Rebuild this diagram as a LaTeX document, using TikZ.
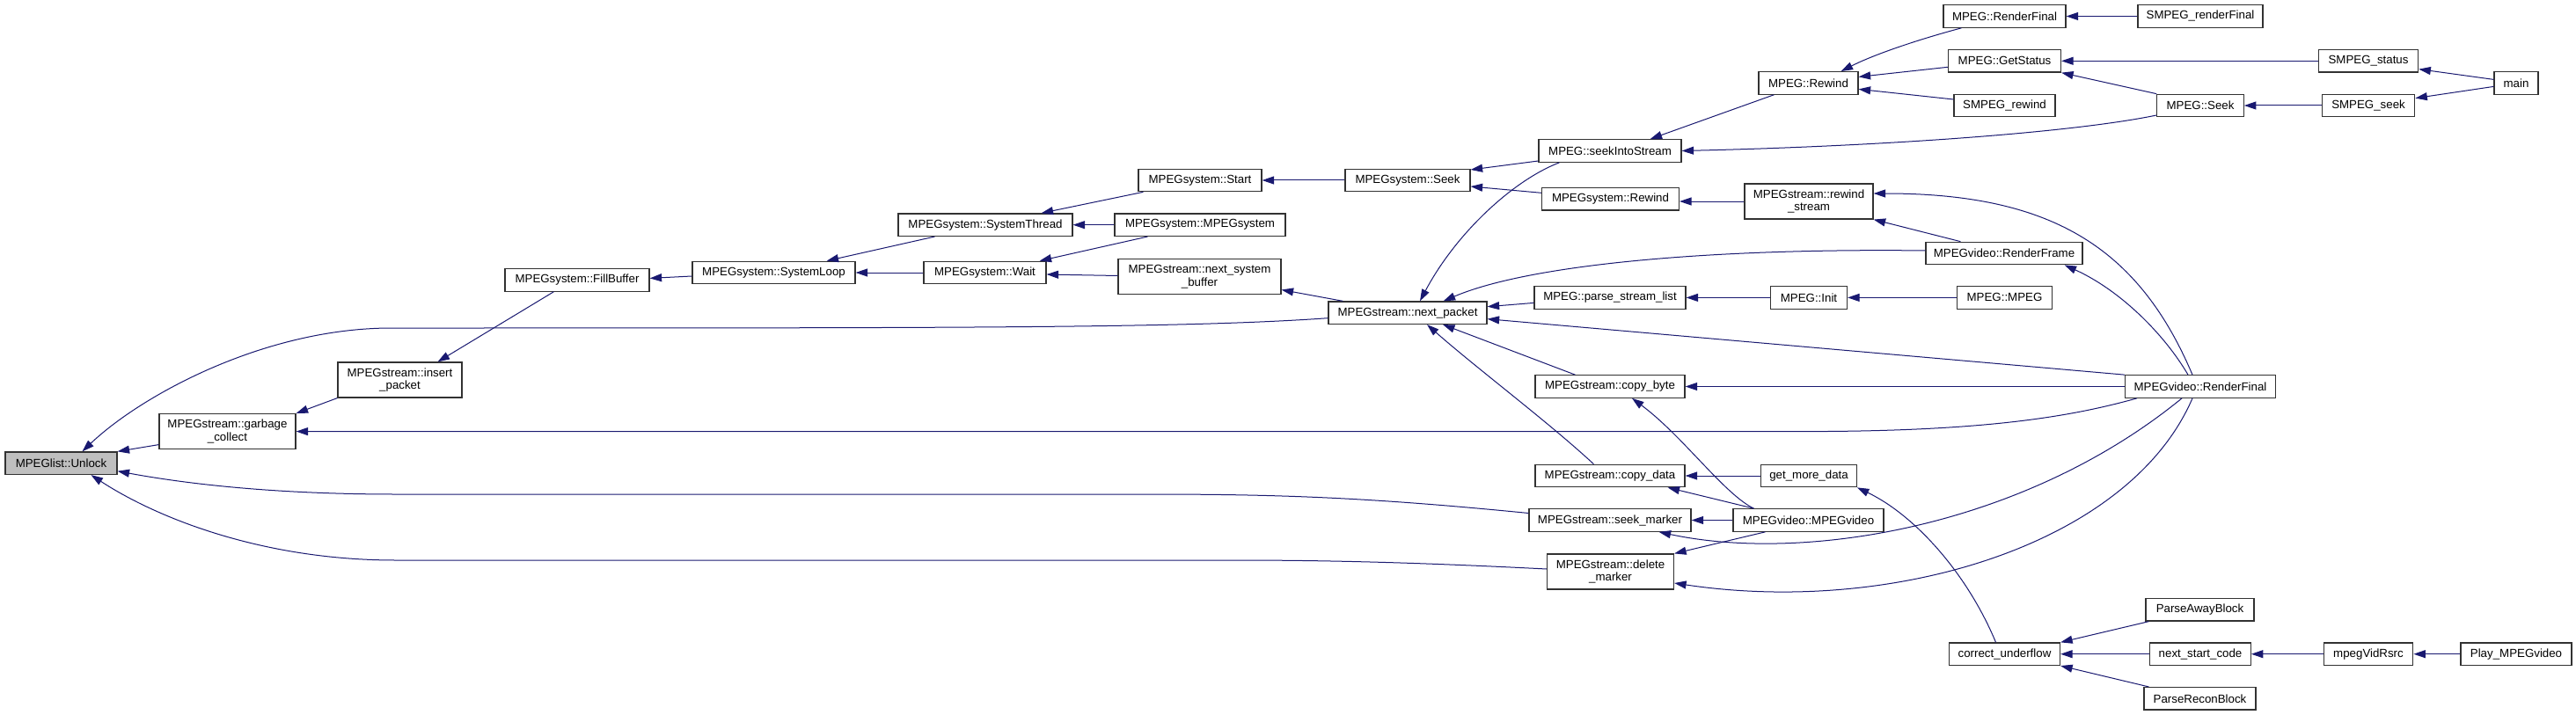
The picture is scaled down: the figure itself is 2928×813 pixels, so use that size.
\documentclass[tikz,border=0pt]{standalone}
\usepackage{fontspec}
\setmainfont{Liberation Sans}
\usetikzlibrary{arrows.meta,calc}
\definecolor{edgeblue}{RGB}{25,25,112}
\definecolor{boxline}{RGB}{50,50,50}
\definecolor{hlgray}{RGB}{191,191,191}
\begin{document}
\begin{tikzpicture}[x=1pt,y=-1pt,
  fn/.style={draw=boxline, line width=1.2pt, fill=white, inner sep=0pt,
    minimum height=25.5pt, font=\fontsize{13.3}{14.5}\selectfont, align=center},
  fn2/.style={fn, minimum height=40pt},
  e/.style={draw=edgeblue, line width=1pt, -{Triangle[length=13.5pt,width=9pt]}}]
\useasboundingbox (0,0) rectangle (2928,813);

% nodes
\node[fn, fill=hlgray, minimum width=127pt] (unlock) at (69.5,526.7) {MPEGlist::Unlock};
\node[fn2, minimum width=155pt] (garbage) at (258.5,490.6) {MPEGstream::garbage\\\_collect};
\node[fn2, minimum width=141pt] (insert) at (454.5,432) {MPEGstream::insert\\\_packet};
\node[fn, minimum width=164pt] (fillbuffer) at (656,318.4) {MPEGsystem::FillBuffer};
\node[fn, minimum width=185pt] (systemloop) at (879.5,310) {MPEGsystem::SystemLoop};
\node[fn, minimum width=198pt] (systemthread) at (1120,255.7) {MPEGsystem::SystemThread};
\node[fn, minimum width=139pt] (wait) at (1119.5,310) {MPEGsystem::Wait};
\node[fn, minimum width=140pt] (start) at (1364,205) {MPEGsystem::Start};
\node[fn, minimum width=194pt] (mpegsystem) at (1364,255.7) {MPEGsystem::MPEGsystem};
\node[fn2, minimum width=185pt] (nextsysbuf) at (1363.5,314.5) {MPEGstream::next\_system\\\_buffer};
\node[fn, minimum width=180pt] (nextpacket) at (1600,355.7) {MPEGstream::next\_packet};
\node[fn, minimum width=142pt] (syseek) at (1600,205) {MPEGsystem::Seek};
\node[fn, minimum width=162pt] (seekinto) at (1830,171.5) {MPEG::seekIntoStream};
\node[fn, minimum width=156pt] (sysrewind) at (1830.5,226.3) {MPEGsystem::Rewind};
\node[fn, minimum width=172pt] (parselist) at (1830,338.4) {MPEG::parse\_stream\_list};
\node[fn, minimum width=170pt] (copybyte) at (1830,439.5) {MPEGstream::copy\_byte};
\node[fn, minimum width=170pt] (copydata) at (1830,541) {MPEGstream::copy\_data};
\node[fn, minimum width=184pt] (seekmarker) at (1830,591.5) {MPEGstream::seek\_marker};
\node[fn2, minimum width=144pt] (deletemarker) at (1830.5,650) {MPEGstream::delete\\\_marker};
\node[fn, minimum width=113pt] (mpegrewind) at (2055.5,94.4) {MPEG::Rewind};
\node[fn2, minimum width=146pt] (rewindstream) at (2056,229) {MPEGstream::rewind\\\_stream};
\node[fn, minimum width=87pt] (mpeginit) at (2056,338.4) {MPEG::Init};
\node[fn, minimum width=108.5pt] (getmore) at (2056,541) {get\_more\_data};
\node[fn, minimum width=171pt] (mpegvideo) at (2055.5,591.5) {MPEGvideo::MPEGvideo};
\node[fn, minimum width=139pt] (renderfinal1) at (2278.5,18.5) {MPEG::RenderFinal};
\node[fn, minimum width=128pt] (getstatus) at (2278.5,69.3) {MPEG::GetStatus};
\node[fn, minimum width=115pt] (smpegrewind) at (2278.5,120) {SMPEG\_rewind};
\node[fn, minimum width=178pt] (renderframe) at (2278,288) {MPEGvideo::RenderFrame};
\node[fn, minimum width=108pt] (mpegmpeg) at (2278.5,338.4) {MPEG::MPEG};
\node[fn, minimum width=126pt] (correctunder) at (2278.5,743.7) {correct\_underflow};
\node[fn, minimum width=142pt] (smpegrenderfinal) at (2501,18.5) {SMPEG\_renderFinal};
\node[fn, minimum width=98.5pt] (mpegseek) at (2501,120) {MPEG::Seek};
\node[fn, minimum width=171pt] (vrenderfinal) at (2501,439.5) {MPEGvideo::RenderFinal};
\node[fn, minimum width=123pt] (parseaway) at (2500.5,693.3) {ParseAwayBlock};
\node[fn, minimum width=114.5pt] (nextstart) at (2501,743.7) {next\_start\_code};
\node[fn, minimum width=127pt] (parserecon) at (2500.5,794.3) {ParseReconBlock};
\node[fn, minimum width=113.5pt] (smpegstatus) at (2692,69.3) {SMPEG\_status};
\node[fn, minimum width=105.5pt] (smpegseek) at (2692,120) {SMPEG\_seek};
\node[fn, minimum width=101.6pt] (mpegvidrsrc) at (2692,743.7) {mpegVidRsrc};
\node[fn, minimum width=50pt] (main) at (2860,94.4) {main};
\node[fn, minimum width=126pt] (play) at (2860,743.7) {Play\_MPEGvideo};

% edges (arrow at callee)
\draw[e] ($(garbage.west)+(0,15)$) -- (unlock.north east);
\draw[e] ($(nextpacket.west)+(0,6)$) .. controls (1350,373) and (1100,373) .. (445,373)
   .. controls (300,373) and (160,450) .. ($(unlock.north)+(24,0)$);
\draw[e] ($(seekmarker.west)+(0,-8)$) .. controls (1550,565) and (1450,562) .. (1300,562)
   -- (450,562) .. controls (300,562) and (200,548) .. ($(unlock.east)+(0,9)$);
\draw[e] ($(deletemarker.west)+(0,-3)$) .. controls (1600,639) and (1500,637) .. (1400,637)
   -- (450,637) .. controls (300,637) and (180,590) .. ($(unlock.south)+(34,0)$);
\draw[e] (insert.south west) -- (garbage.north east);
\draw[e] ($(vrenderfinal.south west)+(14,0)$) .. controls (2350,475) and (2250,490.6) .. (2050,490.6) -- (garbage.east);
\draw[e] ($(fillbuffer.south west)+(56,0)$) -- ($(insert.north)+(43,0)$);
\draw[e] ($(systemloop.west)+(0,4)$) -- ($(fillbuffer.east)+(0,-2)$);
\draw[e] ($(systemthread.south west)+(42,0)$) -- ($(systemloop.north east)+(-33,0)$);
\draw[e] (wait.west) -- (systemloop.east);
\draw[e] ($(start.south west)+(6,0)$) -- ($(systemthread.north east)+(-36,0)$);
\draw[e] (mpegsystem.west) -- (systemthread.east);
\draw[e] ($(mpegsystem.south west)+(38,0)$) -- ($(wait.north east)+(-8,0)$);
\draw[e] ($(nextsysbuf.west)+(0,-1)$) -- ($(wait.east)+(0,2)$);
\draw[e] (syseek.west) -- (start.east);
\draw[e] ($(nextpacket.north west)+(17,0)$) -- ($(nextsysbuf.east)+(0,15)$);
\draw[e] ($(seekinto.west)+(0,11.5)$) -- ($(syseek.east)+(0,-12)$);
\draw[e] ($(sysrewind.west)+(0,-7)$) -- ($(syseek.east)+(0,7)$);
\draw[e] ($(mpegrewind.south west)+(18,0)$) -- ($(seekinto.north east)+(-36,0)$);
\draw[e] ($(mpegseek.west)+(0,11)$) .. controls (2360,150) and (2150,166) .. (seekinto.east);
\draw[e] (rewindstream.west) -- (rewindstream.west -| sysrewind.east);
\draw[e] ($(renderfinal1.south west)+(21,0)$) .. controls (2180,45) and (2130,62) .. ($(mpegrewind.north east)+(-20,0)$);
\draw[e] ($(getstatus.west)+(0,7)$) -- ($(mpegrewind.east)+(0,-7)$);
\draw[e] ($(smpegrewind.west)+(0,-7)$) -- ($(mpegrewind.east)+(0,7)$);
\draw[e] (smpegrenderfinal.west) -- (renderfinal1.east);
\draw[e] (smpegstatus.west) -- (getstatus.east);
\draw[e] (mpegseek.north west) -- (getstatus.south east);
\draw[e] (smpegseek.west) -- (mpegseek.east);
\draw[e] ($(main.west)+(0,-4)$) -- ($(smpegstatus.south east)+(0,-4)$);
\draw[e] ($(main.west)+(0,4)$) -- ($(smpegseek.north east)+(0,5)$);
\draw[e] ($(vrenderfinal.north)+(-9,0)$) .. controls (2430,280) and (2330,220) .. ($(rewindstream.east)+(0,-9)$);
\draw[e] ($(renderframe.north west)+(40,0)$) -- (rewindstream.south east);
\draw[e] ($(vrenderfinal.north)+(-14,0)$) .. controls (2460,380) and (2410,330) .. ($(renderframe.south east)+(-21,0)$);
\draw[e] ($(seekinto.south west)+(24,0)$) .. controls (1720,205) and (1655,265) .. ($(nextpacket.north)+(14,0)$);
\draw[e] ($(renderframe.west)+(0,-3)$) .. controls (1950,282) and (1740,300) .. ($(nextpacket.north east)+(-50,0)$);
\draw[e] ($(parselist.west)+(0,6)$) -- ($(nextpacket.east)+(0,-7)$);
\draw[e] (vrenderfinal.north west) -- ($(nextpacket.east)+(0,7)$);
\draw[e] ($(copybyte.north west)+(46,0)$) -- ($(nextpacket.south)+(40,0)$);
\draw[e] ($(copydata.north west)+(67,0)$) .. controls (1760,480) and (1680,420) .. ($(nextpacket.south)+(22,0)$);
\draw[e] (mpeginit.west) -- (parselist.east);
\draw[e] (mpegmpeg.west) -- (mpeginit.east);
\draw[e] (vrenderfinal.west) -- (copybyte.east);
\draw[e] ($(mpegvideo.north west)+(24,0)$) .. controls (1960,562) and (1912,495) .. ($(copybyte.south)+(25,0)$);
\draw[e] (getmore.west) -- (copydata.east);
\draw[e] ($(mpegvideo.north west)+(24,0)$) -- ($(copydata.south east)+(-20,0)$);
\draw[e] (mpegvideo.west) -- (seekmarker.east);
\draw[e] ($(vrenderfinal.south)+(-21,0)$) .. controls (2300,600) and (2050,640) .. ($(seekmarker.south east)+(-37,0)$);
\draw[e] ($(mpegvideo.south west)+(37,0)$) -- (deletemarker.north east);
\draw[e] ($(vrenderfinal.south)+(-9,0)$) .. controls (2420,620) and (2150,700) .. ($(deletemarker.east)+(0,13)$);
\draw[e] ($(correctunder.north)+(-10,0)$) .. controls (2235,650) and (2175,585) .. (getmore.south east);
\draw[e] ($(parseaway.south west)+(4,0)$) -- (correctunder.north east);
\draw[e] (nextstart.west) -- (correctunder.east);
\draw[e] ($(parserecon.north west)+(6,0)$) -- (correctunder.south east);
\draw[e] (mpegvidrsrc.west) -- (nextstart.east);
\draw[e] (play.west) -- (mpegvidrsrc.east);
\end{tikzpicture}
\end{document}
